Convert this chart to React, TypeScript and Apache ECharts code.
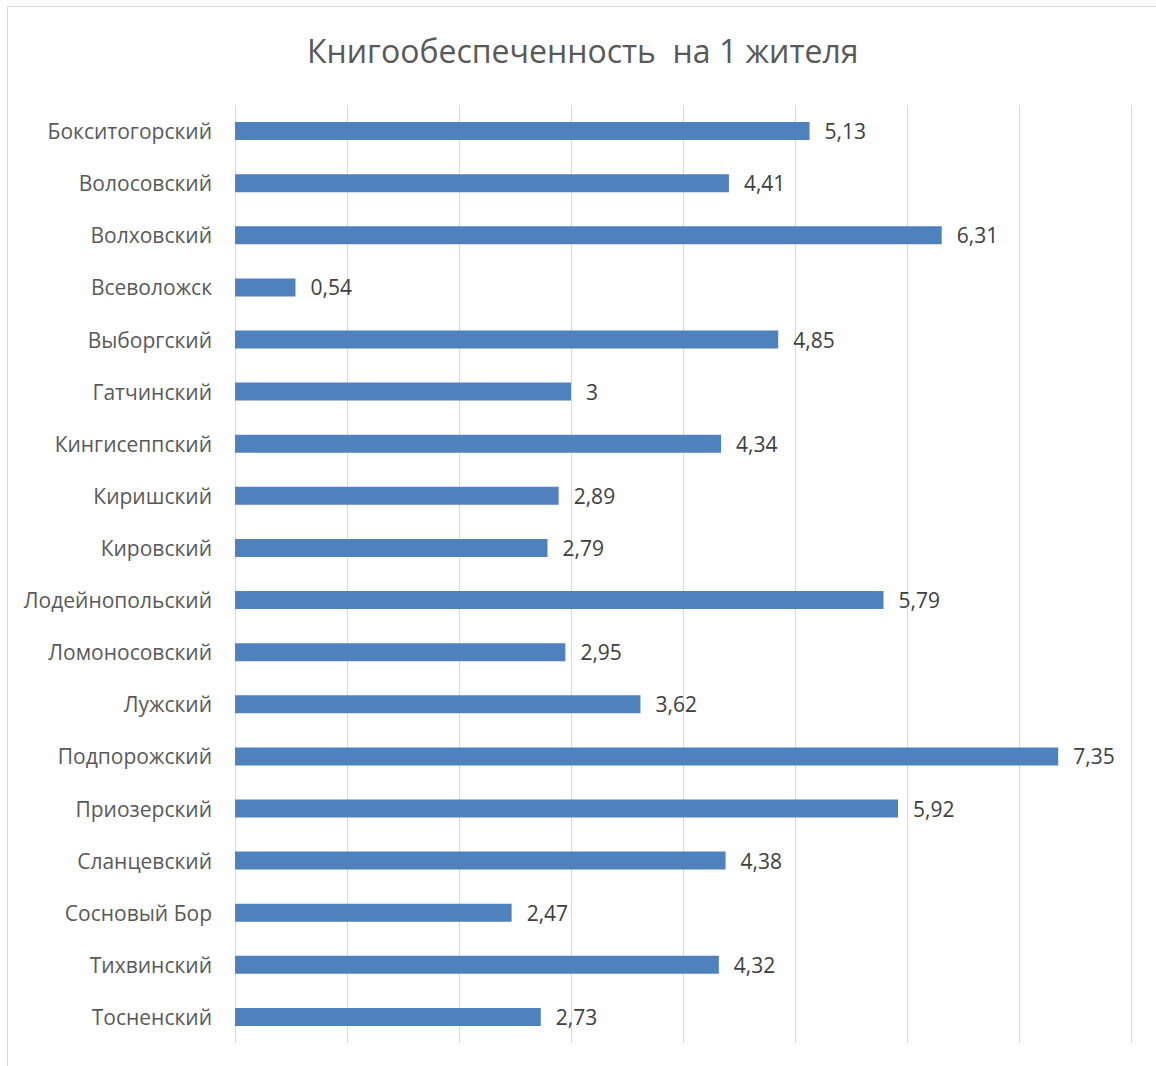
import React, { useEffect, useRef } from "react";
import * as echarts from "echarts";

const categories = [
  "Бокситогорский",
  "Волосовский",
  "Волховский",
  "Всеволожск",
  "Выборгский",
  "Гатчинский",
  "Кингисеппский",
  "Киришский",
  "Кировский",
  "Лодейнопольский",
  "Ломоносовский",
  "Лужский",
  "Подпорожский",
  "Приозерский",
  "Сланцевский",
  "Сосновый Бор",
  "Тихвинский",
  "Тосненский",
];
const values = [5.13, 4.41, 6.31, 0.54, 4.85, 3, 4.34, 2.89, 2.79, 5.79, 2.95, 3.62, 7.35, 5.92, 4.38, 2.47, 4.32, 2.73];
const titleText = "Книгообеспеченность  на 1 жителя";
const xMin = 0;
const xMax = 8;
const xInterval = 1;

const FONT = "'Open Sans', sans-serif";

export default function App() {
  const ref = useRef<HTMLDivElement>(null);
  useEffect(() => {
    if (!ref.current) return;
    const chart = echarts.init(ref.current, null, { renderer: "svg" });
    chart.setOption({
      animation: false,
      backgroundColor: "#ffffff",
      title: {
        text: titleText,
        left: 302,
        top: 29,
        textStyle: { color: "#595959", fontSize: 32, fontWeight: "normal", fontFamily: FONT },
      },
      graphic: [
        {
          type: "rect",
          shape: { x: 7.5, y: 6.5, width: 1300, height: 1300 },
          style: { fill: "none", stroke: "#D9D9D9", lineWidth: 1 },
          silent: true,
        },
      ],
      grid: { left: 235, right: 25, top: 105, bottom: 23, containLabel: false },
      xAxis: {
        type: "value",
        min: xMin,
        max: xMax,
        interval: xInterval,
        axisLabel: { show: false },
        axisLine: { show: false },
        axisTick: { show: false },
        splitLine: { show: true, lineStyle: { color: "#D9D9D9", width: 1 } },
      },
      yAxis: {
        type: "category",
        data: categories,
        inverse: true,
        axisLine: { show: false },
        axisTick: { show: false },
        axisLabel: { color: "#595959", fontSize: 21, fontFamily: FONT, margin: 23 },
      },
      series: [
        {
          type: "bar",
          data: values,
          barWidth: 18,
          itemStyle: { color: "#4F81BD" },
          label: {
            show: true,
            position: "right",
            distance: 15,
            color: "#404040",
            fontSize: 21,
            fontFamily: FONT,
            formatter: (p: any) => String(p.value).replace(".", ","),
          },
        },
      ],
    });
    return () => chart.dispose();
  }, []);
  return (
    <div
      ref={ref}
      style={{ position: "absolute", left: 0, top: 0, width: 1156, height: 1066 }}
    />
  );
}
